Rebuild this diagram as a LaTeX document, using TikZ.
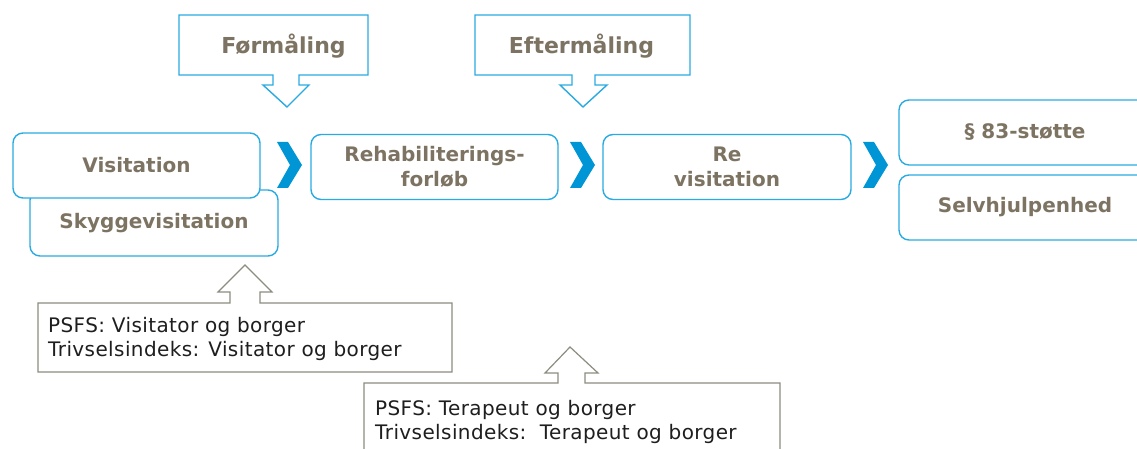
\documentclass[tikz,border=0pt]{standalone}
\usepackage{fontspec}
\setmainfont{DejaVu Sans}
\begin{document}
\definecolor{boxblue}{RGB}{41,171,226}
\definecolor{chevblue}{RGB}{0,150,214}
\definecolor{labeltxt}{RGB}{125,115,98}
\definecolor{notegray}{RGB}{140,140,128}
\definecolor{notetxt}{RGB}{30,30,30}
\tikzset{
  stage/.style={draw=boxblue, line width=1.4pt, rounded corners=10pt, fill=white,
    align=center, font=\fontsize{20}{25}\selectfont\bfseries, text=labeltxt,
    inner sep=0pt},
  chevron/.style={fill=chevblue, draw=none},
  callout/.style={draw=boxblue, line width=1.4pt, fill=white, line join=miter},
  note/.style={draw=notegray, line width=1.2pt, fill=white, line join=miter},
  notetext/.style={align=left, anchor=north west, inner sep=0pt,
    font=\fontsize{20}{23.5}\selectfont\addfontfeatures{LetterSpace=2}, text=notetxt},
  headtext/.style={font=\fontsize{22}{26}\selectfont\bfseries, text=labeltxt, inner sep=0pt},
}
\begin{tikzpicture}[x=1pt, y=-1pt]
\useasboundingbox (0,0) rectangle (1137,449);
\clip (0,0) rectangle (1137,449);

% measurement callouts above the process
\draw[callout] (179,15) -- (368,15) -- (368,75) -- (299,75) -- (299,85) -- (309,85)
  -- (287,107) -- (263,85) -- (273,85) -- (273,75) -- (179,75) -- cycle;
\node[headtext] (pre) at (283.5,46) {Førmåling};

\draw[callout] (475,15) -- (690,15) -- (690,75) -- (595,75) -- (595,85) -- (607,85)
  -- (583,107) -- (560,85) -- (572,85) -- (572,75) -- (475,75) -- cycle;
\node[headtext] (post) at (581.5,46) {Eftermåling};

% process stages
\node[stage, minimum width=248pt, minimum height=66pt] (shadow) at (154,223) {Skyggevisitation};
\node[stage, minimum width=247pt, minimum height=65pt] (visit) at (136.5,165.5) {Visitation};
\node[stage, minimum width=247pt, minimum height=65pt] (rehab) at (434.5,167) {Rehabiliterings-\\forløb};
\node[stage, minimum width=248pt, minimum height=65pt] (revisit) at (727,167) {Re\\visitation};
\node[stage, minimum width=252pt, minimum height=65pt] (support) at (1025,132.5) {§ 83-støtte};
\node[stage, minimum width=252pt, minimum height=65pt] (selfhelp) at (1025,207.5) {Selvhjulpenhed};

% chevrons between the stages
\foreach \x in {277,570,863}{
  \fill[chevron] (\x,142) -- (\x+11,142) -- (\x+25,165) -- (\x+11,188) -- (\x,188)
    -- (\x+13,165) -- cycle;
}

% notes on who fills in the measurements
\draw[note] (38,303) -- (230,303) -- (230,292) -- (218,292) -- (245,265) -- (272,292)
  -- (260,292) -- (260,303) -- (452,303) -- (452,372) -- (38,372) -- cycle;
\node[notetext] (note1) at (48,317.5) {PSFS: Visitator og borger\\Trivselsindeks: Visitator og borger};

\draw[note] (364,383) -- (558,383) -- (558,373) -- (545,373) -- (570,347) -- (598,373)
  -- (585,373) -- (585,383) -- (780,383) -- (780,470) -- (364,470) -- cycle;
\node[notetext] (note2) at (375,400.5) {PSFS: Terapeut og borger\\Trivselsindeks:\ \ Terapeut og borger};
\end{tikzpicture}
\end{document}
